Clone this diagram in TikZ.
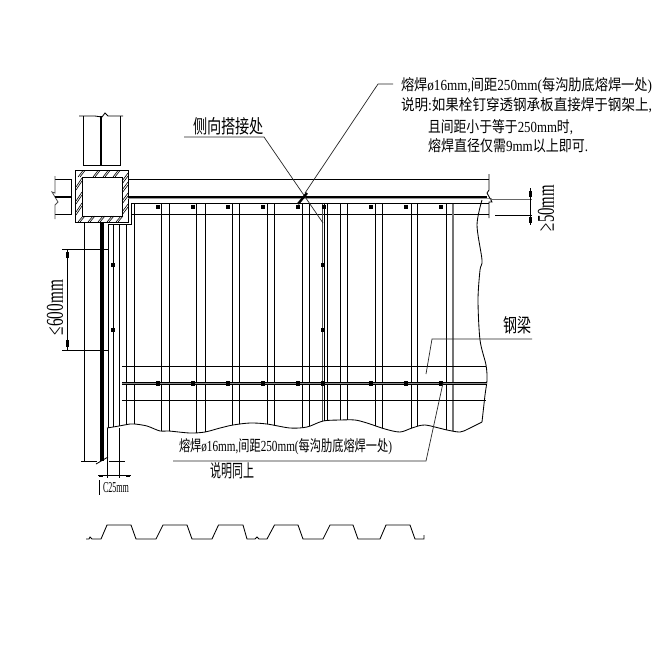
\documentclass[tikz,border=0pt]{standalone}
\usepackage{graphicx}
\usepackage{fontspec}
\setmainfont{Liberation Serif}
\newfontfamily\cjk{Noto Sans CJK SC}
\newcommand{\zh}[1]{{\cjk #1}}
\newcommand{\fittext}[3]{\resizebox{#1pt}{#2pt}{#3}}
\def\wavepts{(107,428)(119,426)(130,424)(135,424)(147,426)(160,431)(169,431)(190,433)(205,432)(220,428)(233,425)(250,423)(267,424)(290,428)(307,427)(323,421)(340,420)(355,420)(367,423)(385,429)(400,432)(412,428)(425,425)(447,430)(460,432)(468,429)(482,422)}
\tikzset{
  thinline/.style={line width=0.85pt,black},
  leader/.style={line width=0.7pt,black!85},
  hatch/.style={line width=0.6pt,black},
  weld/.style={fill=black,draw=none,minimum size=4.6pt,inner sep=0pt,rectangle},
  lbl/.style={inner sep=0pt,anchor=center,text=black},
}
\begin{document}
\begin{tikzpicture}[x=1pt,y=-1pt,line join=miter]
\useasboundingbox (0,0) rectangle (660,649);
\fill[white] (0,0) rectangle (660,649);
% upper column
\draw[thinline] (79,116)--(95,116)--(102,117)--(105,113)--(108,116)--(123,116);
\draw[thinline] (83.5,116)--(83.5,165)--(120,165)--(120,116);
\draw[line width=2.6pt] (101,116)--(101,165);
% hollow section with hatched wall
\foreach \p in {80,95,105,115}{
  \draw[hatch] (\p-2,177)--(\p+3,170.5);
  \draw[hatch] (\p,177)--(\p+5,170.5);}
\foreach \p in {80,90,100,109,118}{
  \draw[hatch] (\p-2,222)--(\p+3,216);
  \draw[hatch] (\p,222)--(\p+5,216);}
\foreach \p in {183,197,208}{
  \draw[hatch] (76,\p+4)--(82,\p-5);
  \draw[hatch] (76,\p+7)--(82,\p-2);}
\foreach \p in {177,186,197,208}{
  \draw[hatch] (122,\p+4)--(128,\p-4);
  \draw[hatch] (122,\p+7)--(128,\p-1);}
\draw[line width=1pt] (75.5,170.5) rectangle (128,222);
\draw[line width=1pt] (82,177) rectangle (122,216);
% left stub
\draw[thinline] (55,179)--(71,179)--(71,214)--(55,214);
\draw[thinline,black!70] (55,176)--(55,193)--(52,192)--(58,202)--(55,205)--(55,219);
\draw[line width=1.5pt] (55,197)--(71,197);
% main beam
\draw[thinline] (128,179)--(489,179);
\draw[line width=1.2pt,black!40] (128,198.7)--(492,198.7);
\draw[line width=2pt] (128,196.5)--(487,196.5);
\draw[thinline] (489,174)--(489,190)--(487,193)--(492,202)--(489,202)--(489,218);
\draw[thinline] (131,203.7)--(489,203.7);
\draw[thinline] (131,214.7)--(489,214.7);
\draw[thinline] (131,203.7)--(131,224)--(108,224);
% lower column
\draw[thinline] (84,222)--(84,461);
\draw[line width=3.2pt] (102,222)--(102,461);
% deck sheet lines, cut at the wavy edge
\begin{scope}
\clip plot[smooth] coordinates {\wavepts} -- (500,150) -- (100,150) -- cycle;
\foreach \x in {108,113,119,126}{\draw[thinline] (\x,224)--(\x,440);}
\foreach \x in {134.5,161,169,196.5,205,232,239,267,274.5,302,309,327,340,347,375,382,411,417,446}{
  \draw[thinline] (\x,204)--(\x,440);}
\draw[line width=0.9pt,black!70] (322,204)--(322,440);
\draw[line width=0.8pt,black] (324,204)--(324,440);
\draw[line width=1.1pt,black!55] (453,204)--(453,440);
\end{scope}
% wavy and right break edges
\draw[thinline] plot[smooth] coordinates {\wavepts};
\draw[thinline] plot[smooth] coordinates {(482,422)(485,395)(487,380)(486,365)(480,340)(478,300)(480,270)(482,260)(477,225)(482,200)};
% secondary beam
\draw[thinline] (122,366.5)--(486,366.5);
\draw[line width=3pt,black] (122,383.5)--(487,383.5);
\draw[line width=1.2pt,black!45] (122,383.5)--(487,383.5);
\draw[thinline] (122,400.5)--(486,400.5);
% welds
\foreach \x in {158,193,228,263,298,324,371,406,441}{\node[weld] at (\x,207){};}
\foreach \x in {158,193,228,263,298,323,371,406,441}{\node[weld] at (\x,383.5){};}
\node[weld] at (323,330){};
\node[weld] at (323,265){};
\node[weld] at (113,265){};
\node[weld] at (113,330){};
% dim 600
\draw[thinline] (62,249.5)--(108,249.5);
\draw[thinline] (62,350)--(108,350);
\draw[thinline] (67,249.5)--(67,350);
\fill (65.8,252) rectangle (68.7,258);
\fill (65.8,340) rectangle (68.7,347);
\node[lbl,rotate=90] (dimA) at (55,307.5) {\fittext{55}{16}{≤600mm}};
% dim 50
\draw[thinline] (495,215)--(532,215);
\draw[line width=0.7pt,black!60] (490,199)--(532,199);
\draw[thinline] (530,188)--(530,225);
\fill (528.8,191) rectangle (531.7,197);
\fill (528.8,217) rectangle (531.7,223);
\node[lbl,rotate=90] (dimB) at (546,208) {\fittext{46}{16}{≥50mm}};
% dim C25
\draw[thinline] (81,461)--(97,461);
\draw[thinline] (109,461)--(125,461);
\draw[thinline] (96,464)--(108,457);
\draw[thinline] (107.5,428)--(107.5,478);
\draw[thinline] (119,428)--(119,478);
\draw[thinline] (98,475.5)--(131,475.5);
\fill (99,474.5) rectangle (103,476.5);
\fill (126,474.5) rectangle (130,476.5);
\draw[thinline] (99,480)--(99,495);
\node[lbl] (cdim) at (116,488) {\fittext{26}{10}{C25mm}};
% labels
\node[lbl] (side) at (228.5,126) {\fittext{71}{16}{\zh{侧向搭接处}}};
\coordinate (sideL) at (184,137);
\coordinate (sideM) at (264,137);
\coordinate (sideE) at (323,223);
\draw[leader] (sideL)--(sideM)--(sideE);
\node[lbl] (note1) at (526.5,86) {\fittext{251}{13}{\zh{熔焊}ø16mm,\zh{间距}250mm(\zh{每沟肋底熔焊一处})}};
\node[lbl] (note2) at (526.5,105.5) {\fittext{251}{13}{\zh{说明}:\zh{如果栓钉穿透钢承板直接焊于钢架上},}};
\node[lbl] (note3) at (500.5,127) {\fittext{145}{13}{\zh{且间距小于等于}250mm\zh{时},}};
\node[lbl] (note4) at (508,146) {\fittext{160}{13}{\zh{熔焊直径仅需}9mm\zh{以上即可}.}};
\coordinate (noteE) at (393,84);
\coordinate (noteM) at (378,84);
\coordinate (noteW) at (305,193);
\draw[leader] (noteE)--(noteM)--(noteW);
\draw[line width=2.4pt] (298,204)--(307,193);
\node[lbl] (beam) at (517,325) {\fittext{28}{16}{\zh{钢梁}}};
\coordinate (beamE) at (532,339);
\coordinate (beamM) at (432,339);
\coordinate (beamW) at (426,374);
\draw[leader] (beamE)--(beamM)--(beamW);
\node[lbl] (note5) at (285.5,447) {\fittext{213}{13}{\zh{熔焊}ø16mm,\zh{间距}250mm(\zh{每沟肋底熔焊一处})}};
\coordinate (lowA) at (173,461);
\coordinate (lowB) at (426,461);
\coordinate (lowC) at (443,383);
\draw[leader] (lowA)--(lowB)--(lowC);
\node[lbl] (note6) at (232,471) {\fittext{44}{15}{\zh{说明同上}}};
% deck profile
\draw[thinline] (86,539)--(89,539)--(90,537)--(92,539)--(101,539)
  --(107,525)--(131,525)--(136,539)--(156,539)
  --(163,525)--(187,525)--(192,539)--(212,539)
  --(218.5,525)--(243,525)--(247,539)--(255,539)--(257,537)--(259,539)--(267,539)
  --(274.5,525)--(298,525)--(303,539)--(323,539)
  --(330,525)--(353,525)--(358,539)--(380,539)
  --(386,525)--(410,525)--(415,539)--(424,539)--(424,535);
\end{tikzpicture}
\end{document}
